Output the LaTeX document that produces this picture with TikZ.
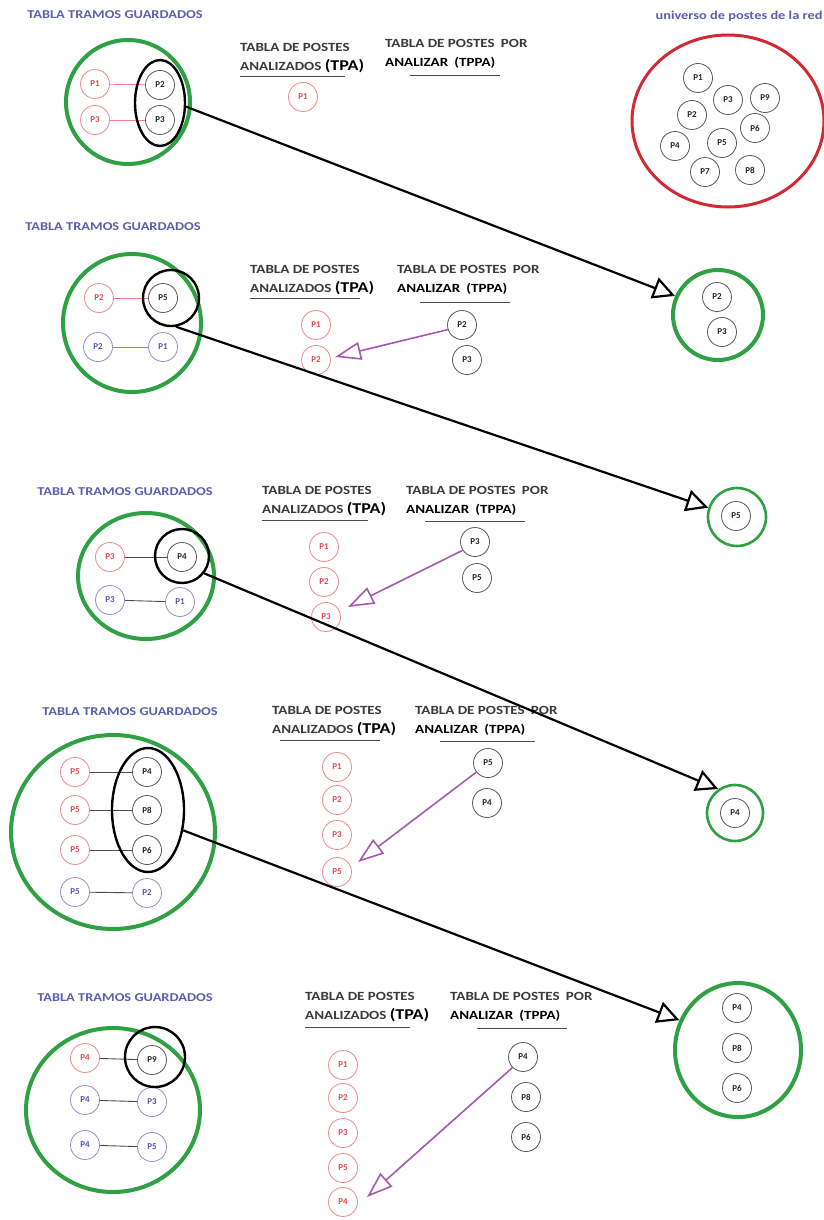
\documentclass[tikz,border=0pt]{standalone}
\usepackage{fontspec}
\setmainfont{Carlito}
\newfontfamily\widefont[FakeStretch=1.2]{Carlito}
\usetikzlibrary{shapes.geometric,arrows.meta}
\definecolor{hdrblue}{HTML}{5B5FAE}
\definecolor{ringgreen}{HTML}{2FA043}
\definecolor{ringred}{HTML}{D22A35}
\definecolor{polered}{HTML}{E04A55}
\definecolor{poleblue}{HTML}{5558B0}
\definecolor{arrowpurple}{HTML}{A65AAE}
\definecolor{labelgray}{HTML}{3A3A3A}
\tikzset{
  pole/.style={circle, draw=black!65, line width=0.8pt, minimum size=29pt, inner sep=0pt,
    font=\fontsize{9}{10}\selectfont\bfseries},
  rpole/.style={pole, draw=polered!65, text=polered},
  bpole/.style={pole, draw=poleblue!65, text=poleblue},
  kpole/.style={pole, text=black!85},
  ring/.style={circle, draw=ringgreen, line width=4pt, inner sep=0pt},
  oring/.style={ellipse, draw=ringgreen, line width=4pt, inner sep=0pt},
  grp/.style={ellipse, draw=black, line width=2.4pt, inner sep=0pt},
  hdr/.style={font=\widefont\fontsize{12}{14}\selectfont\bfseries, text=hdrblue},
  tbl/.style={anchor=north west, align=left, inner sep=0pt,
    font=\widefont\fontsize{12.5}{19}\selectfont\bfseries, text=labelgray},
  uline/.style={line width=1pt, black!70},
  link/.style={black!70, line width=0.9pt},
  rlink/.style={polered!70, line width=0.9pt},
  blink/.style={poleblue!70, line width=0.9pt},
  moveto/.style={line width=2.2pt, -{Triangle[open, length=22pt, width=22pt]}},
  pick/.style={arrowpurple, line width=1.6pt, -{Triangle[open, length=26pt, width=18pt]}}
}
\newcommand{\tpa}{TABLA DE POSTES\\ANALIZADOS {\fontsize{15}{15}\selectfont\color{black}(TPA)}}
\newcommand{\tppa}{TABLA DE POSTES\enspace POR\\{\color{black}ANALIZAR\enspace(TPPA)}}
\begin{document}
\begin{tikzpicture}[x=1pt,y=-1pt]
\useasboundingbox (0,0) rectangle (824,1220);
\fill[white] (0,0) rectangle (824,1220);

% ---------- universe of poles ----------
\node[hdr, anchor=west, font=\widefont\fontsize{12}{14}\selectfont\bfseries] (h0) at (652,16) {universo de postes de la red};
\node[ellipse, draw=ringred, line width=3pt, minimum width=192pt, minimum height=172pt, inner sep=0pt] (U) at (728,121) {};
\node[kpole] (u1) at (698,78) {P1};
\node[kpole] (u3) at (728,100) {P3};
\node[kpole] (u9) at (765,98) {P9};
\node[kpole] (u2) at (692,115) {P2};
\node[kpole] (u6) at (755,128) {P6};
\node[kpole] (u4) at (675,146) {P4};
\node[kpole] (u5) at (722,143) {P5};
\node[kpole] (u7) at (705,172) {P7};
\node[kpole] (u8) at (750,170) {P8};

% ---------- step 1 ----------
\node[hdr] (h1) at (115,15) {TABLA TRAMOS GUARDADOS};
\node[ring, minimum size=124pt] (g1) at (128,102) {};
\node[rpole] (s1a) at (95,84) {P1};
\node[kpole] (s1b) at (160,85) {P2};
\node[rpole] (s1c) at (95,120) {P3};
\node[kpole] (s1d) at (160,120) {P3};
\draw[rlink] (s1a) -- (s1b);
\draw[rlink] (s1c) -- (s1d);
\node[grp, minimum width=50pt, minimum height=86pt] (e1) at (160,103) {};
\node[tbl] (t1) at (240,43) {\tpa};
\draw[uline] (240,77) -- (345,77);
\node[rpole] (p1a) at (303,97) {P1};
\node[tbl] (v1) at (385,39) {\tppa};
\draw[uline] (410,76) -- (500,76);

% ---------- step 2 ----------
\node[hdr] (h2) at (113,227) {TABLA TRAMOS GUARDADOS};
\node[ring, minimum size=138pt] (g2) at (132,323) {};
\node[rpole] (s2a) at (99,298) {P2};
\node[kpole] (s2b) at (163,298) {P5};
\node[bpole] (s2c) at (98,347) {P2};
\node[bpole] (s2d) at (163,347) {P1};
\draw[rlink] (s2a) -- (s2b);
\draw[blink] (s2c) -- (s2d);
\node[grp, circle, minimum size=56pt] (c2) at (171,298) {};
\node[tbl] (t2) at (250,265) {\tpa};
\draw[uline] (250,298) -- (360,298);
\node[rpole] (p2a) at (316,325) {P1};
\node[rpole] (p2b) at (316,360) {P2};
\node[tbl] (v2) at (397,265) {\tppa};
\draw[uline] (420,302) -- (510,302);
\node[kpole] (q2a) at (462,325) {P2};
\node[kpole] (q2b) at (467,360) {P3};
\node[ring, minimum size=90pt] (rg2) at (718,315) {};
\node[kpole] (r2a) at (717,297) {P2};
\node[kpole] (r2b) at (722,332) {P3};

% ---------- step 3 ----------
\node[hdr] (h3) at (125,492) {TABLA TRAMOS GUARDADOS};
\node[oring, minimum width=136pt, minimum height=126pt] (g3) at (146,576) {};
\node[rpole] (s3a) at (110,557) {P3};
\node[kpole] (s3b) at (182,557) {P4};
\node[bpole] (s3c) at (110,600) {P3};
\node[bpole] (s3d) at (180,602) {P1};
\draw[link] (s3a) -- (s3b);
\draw[link] (s3c) -- (s3d);
\node[grp, circle, minimum size=54pt] (c3) at (182,556) {};
\node[tbl] (t3) at (262,486) {\tpa};
\draw[uline] (262,520) -- (368,520);
\node[rpole] (p3a) at (324,547) {P1};
\node[rpole] (p3b) at (324,582) {P2};
\node[rpole] (p3c) at (326,617) {P3};
\node[tbl] (v3) at (406,486) {\tppa};
\draw[uline] (425,521) -- (525,521);
\node[kpole] (q3a) at (475,542) {P3};
\node[kpole] (q3b) at (477,578) {P5};
\node[ring, line width=2.6pt, minimum size=58pt] (rg3) at (737,517) {};
\node[kpole] (r3a) at (736,516) {P5};

% ---------- step 4 ----------
\node[hdr] (h4) at (130,712) {TABLA TRAMOS GUARDADOS};
\node[oring, minimum width=204pt, minimum height=194pt] (g4) at (113,832) {};
\node[rpole] (s4a) at (75,772) {P5};
\node[kpole] (s4b) at (147,772) {P4};
\node[rpole] (s4c) at (75,810) {P5};
\node[kpole] (s4d) at (147,810) {P8};
\node[rpole] (s4e) at (75,850) {P5};
\node[kpole] (s4f) at (147,850) {P6};
\node[bpole] (s4g) at (75,892) {P5};
\node[bpole] (s4h) at (147,893) {P2};
\draw[link] (s4a) -- (s4b);
\draw[link] (s4c) -- (s4d);
\draw[link] (s4e) -- (s4f);
\draw[link] (s4g) -- (s4h);
\node[grp, minimum width=72pt, minimum height=124pt] (e4) at (148,810) {};
\node[tbl] (t4) at (272,706) {\tpa};
\draw[uline] (280,740) -- (380,740);
\node[rpole] (p4a) at (337,767) {P1};
\node[rpole] (p4b) at (337,800) {P2};
\node[rpole] (p4c) at (337,835) {P3};
\node[rpole] (p4d) at (337,872) {P5};
\node[tbl] (v4) at (415,706) {\tppa};
\draw[uline] (440,741) -- (535,741);
\node[kpole] (q4a) at (488,763) {P5};
\node[kpole] (q4b) at (487,803) {P4};
\node[ring, line width=2.6pt, minimum size=56pt] (rg4) at (735,813) {};
\node[kpole] (r4a) at (735,813) {P4};

% ---------- step 5 ----------
\node[hdr] (h5) at (125,998) {TABLA TRAMOS GUARDADOS};
\node[oring, minimum width=174pt, minimum height=164pt] (g5) at (113,1110) {};
\node[rpole] (s5a) at (85,1058) {P4};
\node[kpole] (s5b) at (152,1060) {P9};
\node[bpole] (s5c) at (85,1100) {P4};
\node[bpole] (s5d) at (152,1102) {P3};
\node[bpole] (s5e) at (85,1145) {P4};
\node[bpole] (s5f) at (152,1147) {P5};
\draw[link] (s5a) -- (s5b);
\draw[link] (s5c) -- (s5d);
\draw[link] (s5e) -- (s5f);
\node[grp, circle, minimum size=60pt] (c5) at (155,1057) {};
\node[tbl] (t5) at (305,992) {\tpa};
\draw[uline] (305,1027) -- (410,1027);
\node[rpole] (p5a) at (343,1065) {P1};
\node[rpole] (p5b) at (343,1098) {P2};
\node[rpole] (p5c) at (343,1133) {P3};
\node[rpole] (p5d) at (343,1168) {P5};
\node[rpole] (p5e) at (343,1202) {P4};
\node[tbl] (v5) at (450,992) {\tppa};
\draw[uline] (477,1028) -- (567,1028);
\node[kpole] (q5a) at (523,1057) {P4};
\node[kpole] (q5b) at (526,1097) {P8};
\node[kpole] (q5c) at (526,1137) {P6};
\node[oring, minimum width=126pt, minimum height=134pt] (rg5) at (738,1050) {};
\node[kpole] (r5a) at (737,1008) {P4};
\node[kpole] (r5b) at (737,1048) {P8};
\node[kpole] (r5c) at (737,1088) {P6};

% ---------- pending poles carried to the next step ----------
\draw[moveto] (e1.-8) -- (rg2.156);
\draw[moveto] (c2.-80) -- (rg3.162);
\draw[moveto] (c3.-38) -- (rg4.125);
\draw[moveto] (e4.-30) -- (rg5.153);

% ---------- pole taken from TPPA into TPA ----------
\draw[pick] (q2a.198) -- ([shift={(19,-3)}]p2b.center);
\draw[pick] (q3a.214) -- ([shift={(22,-10)}]p3c.center);
\draw[pick] (q4a.218) -- ([shift={(21,-10)}]p4d.center);
\draw[pick] (q5a.225) -- ([shift={(24,-5)}]p5e.center);
\end{tikzpicture}
\end{document}
